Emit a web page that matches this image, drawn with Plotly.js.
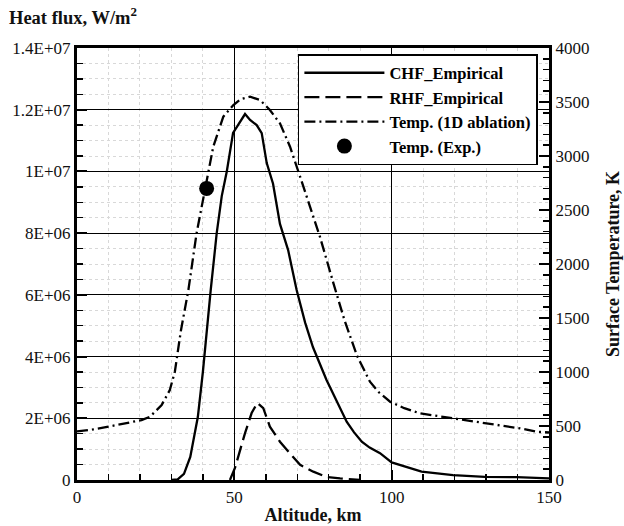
<!DOCTYPE html>
<html>
<head>
<meta charset="utf-8">
<script src="https://cdn.plot.ly/plotly-3.0.1.min.js"></script>
<style>html,body{margin:0;padding:0;background:#fff;}#chart{width:624px;height:526px;}</style>
</head>
<body>
<div id="chart"></div>
<script>
// ---- data ----
var chfAlt = [30, 32, 34, 36, 38.4, 40, 42.5, 44.4, 46, 47.6, 49.6, 51.8, 53.4, 55, 57.1, 58.7, 60.3, 62.3, 64.5, 67.1, 69.8, 72.5, 75, 79.3, 82.5, 85.7, 88, 90.5, 93, 96.3, 100, 104.7, 109.5, 119.5, 129.6, 139.7, 150];
var chfVal = [0, 0.02e6, 0.2e6, 0.75e6, 2.04e6, 3.5e6, 6.16e6, 8.0e6, 9.2e6, 1.0e7, 1.125e7, 1.16e7, 1.186e7, 1.167e7, 1.15e7, 1.124e7, 1.027e7, 9.6e6, 8.3e6, 7.45e6, 6.16e6, 5.1e6, 4.3e6, 3.24e6, 2.55e6, 1.89e6, 1.55e6, 1.24e6, 1.05e6, 0.87e6, 0.57e6, 0.43e6, 0.27e6, 0.16e6, 0.1e6, 0.09e6, 0.05e6];

var rhfAlt = [48.6, 50.2, 53.4, 55.5, 57.3, 59.2, 61.3, 64.5, 67.7, 70.9, 75.1, 79.3, 83.6, 90];
var rhfVal = [0, 0.39e6, 1.52e6, 2.17e6, 2.5e6, 2.33e6, 1.73e6, 1.24e6, 0.86e6, 0.49e6, 0.27e6, 0.1e6, 0.05e6, 0];

var tempAlt = [0, 5, 10, 15, 20.5, 23.2, 26.9, 29.5, 31.1, 33, 35.4, 38, 40.7, 43.3, 46.5, 49.7, 52, 55, 58.2, 61.3, 64.5, 67.7, 70.9, 74, 77.2, 81.5, 85, 89, 93.1, 96, 99.5, 104, 109, 119.6, 130.2, 140.8, 146, 150];
var tempVal = [450, 468, 494, 520, 555, 586, 694, 833, 1003, 1380, 1759, 2284, 2685, 3086, 3364, 3472, 3525, 3549, 3518, 3426, 3302, 3086, 2808, 2531, 2253, 1821, 1480, 1150, 910, 810, 725, 665, 617, 571, 525, 478, 447, 440];

var expAlt = [41.2];
var expVal = [2700];

var names = ['CHF_Empirical', 'RHF_Empirical', 'Temp. (1D ablation)', 'Temp. (Exp.)'];

var xTickVals = [0, 50, 100, 150];
var xTickText = ['0', '50', '100', '150'];
var yTickVals = [0, 2e6, 4e6, 6e6, 8e6, 1e7, 1.2e7, 1.4e7];
var yTickText = ['0', '2E+06', '4E+06', '6E+06', '8E+06', '1E+07', '1.2E+07', '1.4E+07'];
var y2TickVals = [0, 500, 1000, 1500, 2000, 2500, 3000, 3500, 4000];
var y2TickText = ['0', '500', '1000', '1500', '2000', '2500', '3000', '3500', '4000'];

// ---- chart ----
var serif = 'Liberation Serif, Times New Roman, serif';
var traces = [
  {x: chfAlt, y: chfVal, name: names[0], type: 'scatter', mode: 'lines',
   line: {color: '#000', width: 2.3}, yaxis: 'y'},
  {x: rhfAlt, y: rhfVal, name: names[1], type: 'scatter', mode: 'lines',
   line: {color: '#000', width: 2.3, dash: '15px,6px'}, yaxis: 'y'},
  {x: tempAlt, y: tempVal, name: names[2], type: 'scatter', mode: 'lines',
   line: {color: '#000', width: 2.3, dash: '11px,4px,2px,4px'}, yaxis: 'y2'},
  {x: expAlt, y: expVal, name: names[3], type: 'scatter', mode: 'markers',
   marker: {color: '#000', size: 15}, yaxis: 'y2'}
];

var layout = {
  width: 624, height: 526,
  margin: {l: 77, r: 75, t: 48, b: 46},
  paper_bgcolor: '#fff', plot_bgcolor: '#fff',
  font: {family: serif, size: 16, color: '#111'},
  showlegend: true,
  legend: {
    x: 0.468, y: 0.986, xanchor: 'left', yanchor: 'top',
    bgcolor: '#fff', bordercolor: '#000', borderwidth: 1.5,
    font: {family: serif, size: 16.5, weight: 'bold', color: '#000'},
    itemwidth: 80, tracegroupgap: 0
  },
  xaxis: {
    range: [0, 150], tickvals: xTickVals, ticktext: xTickText,
    ticks: 'inside', ticklen: 10, tickwidth: 2, tickcolor: '#000',
    showline: true, linewidth: 3, linecolor: '#000', mirror: true,
    showgrid: true, gridcolor: '#000', gridwidth: 1, zeroline: false,
    tickfont: {family: serif, size: 17},
    minor: {dtick: 10, ticks: 'inside', ticklen: 6, tickwidth: 1.5, tickcolor: '#000',
            showgrid: true, gridcolor: '#d8d8d8', griddash: 'dot', gridwidth: 1},
    title: {text: 'Altitude, km', font: {family: serif, size: 18, weight: 'bold', color: '#111'}, standoff: 2}
  },
  yaxis: {
    range: [0, 1.4e7], tickvals: yTickVals, ticktext: yTickText,
    ticks: 'inside', ticklen: 10, tickwidth: 2, tickcolor: '#000',
    showline: true, linewidth: 3, linecolor: '#000', mirror: true,
    showgrid: true, gridcolor: '#000', gridwidth: 1, zeroline: false,
    tickfont: {family: serif, size: 17},
    minor: {dtick: 5e5, ticks: 'inside', ticklen: 6, tickwidth: 1.5, tickcolor: '#000',
            showgrid: true, gridcolor: '#d8d8d8', griddash: 'dot', gridwidth: 1}
  },
  yaxis2: {
    overlaying: 'y', side: 'right',
    range: [0, 4000], tickvals: y2TickVals, ticktext: y2TickText,
    ticks: 'inside', ticklen: 10, tickwidth: 2.5, tickcolor: '#000',
    showline: true, linewidth: 3, linecolor: '#000',
    showgrid: false, zeroline: false,
    tickfont: {family: serif, size: 17},
    minor: {dtick: 100, ticks: 'inside', ticklen: 6, tickwidth: 1.5, tickcolor: '#000', showgrid: false},
    title: {text: 'Surface Temperature, K', font: {family: serif, size: 18, weight: 'bold', color: '#111'}, standoff: 18}
  },
  annotations: [{
    xref: 'paper', yref: 'paper', x: -0.148, y: 1.075, xanchor: 'left', yanchor: 'middle',
    text: 'Heat flux, W/m<sup>2</sup>', showarrow: false,
    font: {family: serif, size: 18.5, weight: 'bold', color: '#111'}
  }]
};

Plotly.newPlot('chart', traces, layout, {displayModeBar: false, staticPlot: true});
</script>
</body>
</html>
